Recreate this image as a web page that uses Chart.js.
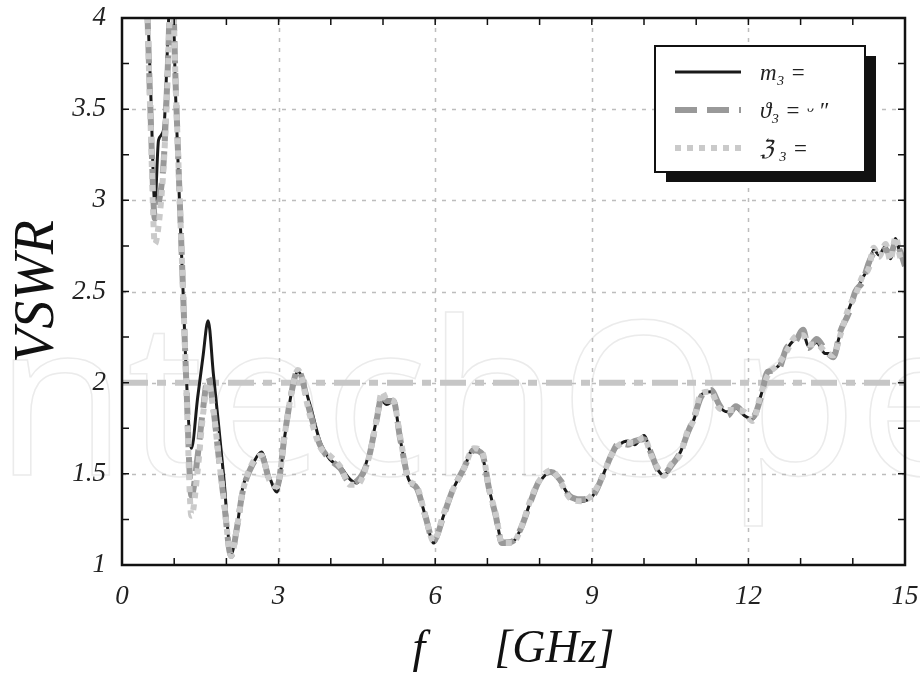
<!DOCTYPE html>
<html>
<head>
<title>VSWR</title>
<meta charset="UTF-8">
<script src="https://cdn.jsdelivr.net/npm/chart.js"></script>
<style>
body { margin: 0; background: #fff; }
#wrap { width: 920px; height: 673px; position: relative; }
</style>
</head>
<body>
<div id="wrap"><canvas id="vswrChart"></canvas></div>
<script>
// frequency points (GHz) shared by all three curves
const freq = [0.45, 0.55, 0.63, 0.7, 0.8, 0.88, 0.95, 1.03, 1.1, 1.17, 1.23, 1.33, 1.45, 1.55, 1.65, 1.75, 1.85, 1.95, 2.09, 2.2,
  2.31, 2.5, 2.67, 2.83, 2.97, 3.12, 3.25, 3.37, 3.6, 3.79, 3.98, 4.18, 4.37, 4.5, 4.72, 4.88, 4.98, 5.07, 5.2, 5.33,
  5.49, 5.65, 5.81, 5.97, 6.16, 6.32, 6.55, 6.74, 6.9, 7.03, 7.16, 7.28, 7.48, 7.64, 7.83, 7.99, 8.22, 8.41, 8.57, 8.79,
  9.02, 9.21, 9.37, 9.53, 9.69, 9.82, 10.0, 10.14, 10.27, 10.38, 10.51, 10.7, 10.83, 10.96, 11.09, 11.28, 11.44, 11.6, 11.76, 11.92,
  12.08, 12.24, 12.37, 12.57, 12.73, 12.89, 13.05, 13.15, 13.31, 13.47, 13.63, 13.76, 13.92, 14.05, 14.18, 14.31, 14.4, 14.5, 14.63, 14.72,
  14.82, 14.92, 15.0];

// solid black curve
const vswrM = [4.4, 3.6, 2.98, 3.33, 3.39, 3.9, 4.3, 3.55, 3.0, 2.5, 2.05, 1.64, 1.92, 2.14, 2.34, 2.05, 1.77, 1.48, 1.06, 1.2,
  1.42, 1.55, 1.62, 1.48, 1.40, 1.71, 1.95, 2.06, 1.88, 1.68, 1.58, 1.54, 1.47, 1.45, 1.60, 1.80, 1.90, 1.88, 1.90, 1.69,
  1.47, 1.42, 1.27, 1.12, 1.27, 1.40, 1.53, 1.64, 1.60, 1.42, 1.27, 1.13, 1.13, 1.20, 1.35, 1.45, 1.51, 1.45, 1.38, 1.35,
  1.38, 1.49, 1.60, 1.66, 1.68, 1.66, 1.71, 1.60, 1.52, 1.49, 1.54, 1.62, 1.73, 1.80, 1.93, 1.95, 1.87, 1.84, 1.86, 1.82,
  1.80, 1.93, 2.05, 2.09, 2.18, 2.24, 2.27, 2.20, 2.22, 2.16, 2.16, 2.27, 2.40, 2.49, 2.57, 2.64, 2.73, 2.70, 2.75, 2.68,
  2.79, 2.69, 2.66];

// dashed dark grey curve
const vswrTheta = [4.4, 3.45, 2.9, 2.98, 3.22, 3.75, 4.3, 3.62, 3.05, 2.5, 2.02, 1.38, 1.6, 1.85, 2.03, 1.86, 1.6, 1.36, 1.05, 1.2,
  1.4, 1.55, 1.6, 1.46, 1.43, 1.72, 1.95, 2.07, 1.84, 1.66, 1.58, 1.53, 1.45, 1.46, 1.58, 1.80, 1.93, 1.90, 1.90, 1.69,
  1.47, 1.42, 1.27, 1.13, 1.27, 1.40, 1.53, 1.63, 1.61, 1.42, 1.27, 1.12, 1.13, 1.20, 1.35, 1.46, 1.51, 1.46, 1.38, 1.36,
  1.38, 1.49, 1.60, 1.67, 1.66, 1.68, 1.69, 1.61, 1.52, 1.50, 1.54, 1.62, 1.72, 1.81, 1.92, 1.96, 1.88, 1.82, 1.87, 1.83,
  1.81, 1.92, 2.06, 2.07, 2.19, 2.22, 2.29, 2.19, 2.24, 2.18, 2.14, 2.28, 2.38, 2.50, 2.55, 2.66, 2.71, 2.72, 2.73, 2.70,
  2.77, 2.71, 2.64];

// dotted light grey curve
const vswrZ = [4.4, 3.4, 2.76, 2.86, 3.2, 3.7, 4.3, 3.62, 3.05, 2.5, 2.0, 1.27, 1.52, 1.82, 2.0, 1.85, 1.6, 1.36, 1.05, 1.2,
  1.4, 1.56, 1.6, 1.46, 1.43, 1.72, 1.95, 2.07, 1.82, 1.65, 1.6, 1.54, 1.44, 1.44, 1.58, 1.80, 1.95, 1.91, 1.90, 1.70,
  1.47, 1.43, 1.27, 1.13, 1.28, 1.40, 1.53, 1.64, 1.62, 1.42, 1.28, 1.12, 1.12, 1.20, 1.36, 1.46, 1.52, 1.45, 1.37, 1.35,
  1.39, 1.49, 1.60, 1.66, 1.67, 1.67, 1.70, 1.60, 1.53, 1.49, 1.55, 1.61, 1.73, 1.80, 1.94, 1.95, 1.86, 1.85, 1.85, 1.84,
  1.79, 1.94, 2.04, 2.10, 2.17, 2.25, 2.26, 2.21, 2.21, 2.17, 2.15, 2.26, 2.41, 2.48, 2.58, 2.63, 2.74, 2.69, 2.76, 2.67,
  2.80, 2.68, 2.67];

// VSWR = 2 reference
const refFreq = [0, 15];
const refLevel = [2, 2];

const legendLabels = ["m\u2083 =", "\u03d1\u2083 = \u1d55 \u2033", "\u2128 \u2083 ="];

const serif = "'Liberation Serif', 'DejaVu Serif', serif";

function pts(xs, ys) {
  return xs.map((x, i) => ({ x: x, y: ys[i] }));
}

const watermark = {
  id: "watermark",
  beforeDraw(chart) {
    const ctx = chart.ctx;
    ctx.save();
    ctx.font = "215px 'Open Sans', sans-serif";
    ctx.strokeStyle = "#ebebeb";
    ctx.lineWidth = 1.5;
    ctx.textBaseline = "alphabetic";
    ctx.strokeText("IntechOpen", -65, 475);
    ctx.restore();
  }
};

const frame = {
  id: "frame",
  beforeDatasetsDraw(chart) {
    const ctx = chart.ctx, a = chart.chartArea;
    const xs = chart.scales.x, ys = chart.scales.y;
    ctx.save();
    ctx.strokeStyle = "#bdbdbd";
    ctx.lineWidth = 1.5;
    ctx.setLineDash([4, 6]);
    xs.ticks.forEach(t => {
      if (t.value % 3 === 0 && t.value > 0 && t.value < 15) {
        const px = Math.round(xs.getPixelForValue(t.value)) + 0.5;
        ctx.beginPath(); ctx.moveTo(px, a.top); ctx.lineTo(px, a.bottom); ctx.stroke();
      }
    });
    ys.ticks.forEach(t => {
      if (t.value % 0.5 === 0 && t.value > 1 && t.value < 4) {
        const py = Math.round(ys.getPixelForValue(t.value)) + 0.5;
        ctx.beginPath(); ctx.moveTo(a.left, py); ctx.lineTo(a.right, py); ctx.stroke();
      }
    });
    ctx.restore();
  },
  afterDatasetsDraw(chart) {
    const ctx = chart.ctx, a = chart.chartArea;
    const xs = chart.scales.x, ys = chart.scales.y;
    ctx.save();
    ctx.strokeStyle = "#111";
    ctx.lineWidth = 1.5;
    xs.ticks.forEach(t => {
      const px = xs.getPixelForValue(t.value);
      ctx.beginPath();
      ctx.moveTo(px, a.bottom); ctx.lineTo(px, a.bottom - 7);
      ctx.moveTo(px, a.top); ctx.lineTo(px, a.top + 7);
      ctx.stroke();
    });
    ys.ticks.forEach(t => {
      const py = ys.getPixelForValue(t.value);
      ctx.beginPath();
      ctx.moveTo(a.left, py); ctx.lineTo(a.left + 7, py);
      ctx.moveTo(a.right, py); ctx.lineTo(a.right - 7, py);
      ctx.stroke();
    });
    ctx.lineWidth = 2.5;
    ctx.strokeRect(a.left, a.top, a.right - a.left, a.bottom - a.top);
    ctx.restore();
  },
  afterDraw(chart) {
    // legend box with drop shadow
    const ctx = chart.ctx;
    const bx = 655, by = 46, bw = 210, bh = 126;
    ctx.save();
    ctx.fillStyle = "#111";
    ctx.fillRect(bx + 11, by + 10, bw, bh);
    ctx.fillStyle = "#fff";
    ctx.fillRect(bx, by, bw, bh);
    ctx.strokeStyle = "#111";
    ctx.lineWidth = 2;
    ctx.strokeRect(bx, by, bw, bh);
    const ds = chart.data.datasets;
    const rows = [72, 110, 148];
    ctx.font = "italic 23px " + serif;
    ctx.textBaseline = "middle";
    for (let i = 0; i < 3; i++) {
      const d = ds[i];
      ctx.strokeStyle = d.borderColor;
      ctx.lineWidth = d.borderWidth;
      ctx.setLineDash(d.borderDash || []);
      ctx.beginPath();
      ctx.moveTo(675, rows[i]); ctx.lineTo(741, rows[i]);
      ctx.stroke();
      ctx.setLineDash([]);
      ctx.fillStyle = "#222";
      ctx.fillText(legendLabels[i], 760, rows[i] + 2);
    }
    ctx.restore();
  }
};

new Chart(document.getElementById("vswrChart"), {
  type: "line",
  data: {
    datasets: [
      {
        label: legendLabels[0],
        data: pts(freq, vswrM),
        borderColor: "#1a1a1a",
        borderWidth: 3,
        cubicInterpolationMode: "monotone",
        order: 3
      },
      {
        label: legendLabels[1],
        data: pts(freq, vswrTheta),
        borderColor: "#999999",
        borderWidth: 6,
        borderDash: [22, 10],
        cubicInterpolationMode: "monotone",
        order: 2
      },
      {
        label: legendLabels[2],
        data: pts(freq, vswrZ),
        borderColor: "#cacaca",
        borderWidth: 6,
        borderDash: [6, 6],
        cubicInterpolationMode: "monotone",
        order: 1
      },
      {
        label: "VSWR = 2",
        data: pts(refFreq, refLevel),
        borderColor: "#c6c6c6",
        borderWidth: 6,
        borderDash: [26, 9, 9, 9],
        order: 4
      }
    ]
  },
  options: {
    responsive: true,
    maintainAspectRatio: false,
    animation: false,
    elements: { point: { radius: 0 }, line: { fill: false } },
    layout: { padding: { top: 18, right: 15, left: 0, bottom: 0 } },
    plugins: { legend: { display: false }, tooltip: { enabled: false } },
    scales: {
      x: {
        type: "linear",
        min: 0,
        max: 15,
        grid: { display: false },
        border: { display: false },
        ticks: {
          stepSize: 1,
          autoSkip: false,
          maxRotation: 0,
          padding: 8,
          color: "#222",
          font: { family: serif, style: "italic", size: 27 },
          callback: v => (v % 3 === 0 ? String(v) : "")
        },
        title: {
          display: true,
          text: "f      [GHz]",
          color: "#111",
          font: { family: serif, style: "italic", size: 46, lineHeight: 1.0 },
          padding: { top: 0, bottom: 0 }
        },
        afterFit: s => { s.height = 108; s.paddingLeft = 0; s.paddingRight = 0; }
      },
      y: {
        min: 1,
        max: 4,
        grid: { display: false },
        border: { display: false },
        ticks: {
          stepSize: 0.25,
          autoSkip: false,
          padding: 8,
          color: "#222",
          font: { family: serif, style: "italic", size: 27 },
          callback: v => (v % 0.5 === 0 ? String(v) : "")
        },
        title: {
          display: true,
          text: "VSWR",
          color: "#111",
          font: { family: serif, style: "italic", size: 56, lineHeight: 1.0 },
          padding: { top: 10, bottom: 0 }
        },
        afterFit: s => { s.width = 122; s.paddingTop = 0; s.paddingBottom = 0; }
      }
    }
  },
  plugins: [watermark, frame]
});
</script>
</body>
</html>
